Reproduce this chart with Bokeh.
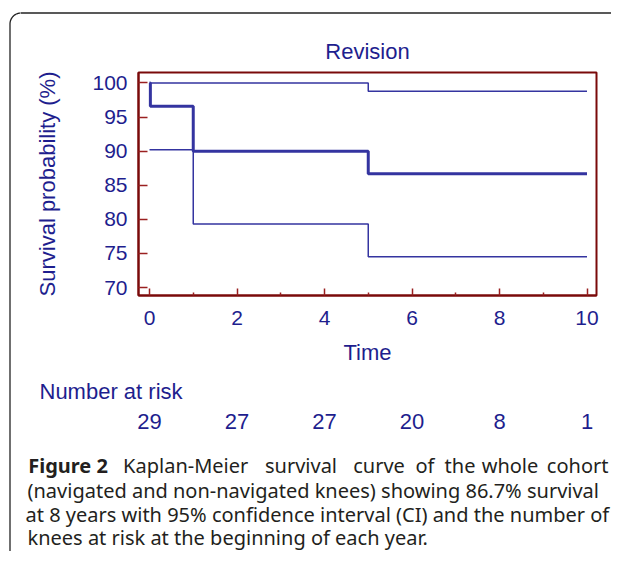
import numpy as np
from bokeh.plotting import figure
from bokeh.layouts import row, column
from bokeh.models import Range1d, FixedTicker
from bokeh.core.properties import value
from bokeh.embed import file_html
from bokeh.resources import INLINE

# ---------------- data ----------------
surv_time = [0, 0.02, 1.0, 5.0, 10.0]
surv_pct = [100.0, 96.6, 90.0, 86.7, 86.7]
upper_time = [0, 5.0, 10.0]
upper_pct = [100.0, 98.8, 98.8]
lower_time = [0, 1.0, 5.0, 10.0]
lower_pct = [90.2, 79.3, 74.5, 74.5]

risk_years = [0, 2, 4, 6, 8, 10]
risk_counts = [29, 27, 27, 20, 8, 1]

x_ticks = [0, 2, 4, 6, 8, 10]
x_minor_ticks = [1, 3, 5, 7, 9]
y_ticks = [70, 75, 80, 85, 90, 95, 100]

title_text = "Revision"
x_title = "Time"
y_title = "Survival probability (%)"
risk_title = "Number at risk"
caption_bold = "Figure 2"
caption_line1_words = ["Kaplan-Meier", "survival", "curve", "of", "the", "whole", "cohort"]
caption_lines = [
    "(navigated and non-navigated knees) showing 86.7% survival",
    "at 8 years with 95% confidence interval (CI) and the number of",
    "knees at risk at the beginning of each year.",
]

# ---------------- styling / layout ----------------
NAVY = "#1e1e8e"
LINE = "#3434a0"
FRAME = "#7a0a0a"
TICK = "#9a2020"
CAP = "#231f20"
BOX = "#222222"
CHART_FONT = "Liberation Sans"
CAP_FONT = "Noto Sans"
CAP_FS = 20
CHART_FS = 22

W, H = 611, 551
STRIP_W = 20          # left strip holding the rounded frame corner
TOP_H = 70            # top strip holding the title
CORE_H = 310          # chart with axes
BOT_H = H - TOP_H - CORE_H
FL, FR, FT, FB = 138, 596, 72, 295      # plot frame in page pixels
X0, X1 = -0.2514, 10.217
Y0, Y1 = 68.83, 101.54
BOX_X, BOX_Y, BOX_R = 9.5, 12.5, 11


def dx(px):
    return X0 + (px - FL) * (X1 - X0) / (FR - FL)


def yb(baseline, fs):
    # anchor position that puts the text baseline at the given page y
    return baseline - 0.36 * fs


def blank(w, h, xr, yr):
    f = figure(width=w, height=h, output_backend="svg", toolbar_location=None,
               x_range=xr, y_range=yr, x_axis_location=None, y_axis_location=None,
               min_border=0, frame_align=False)
    f.outline_line_color = None
    f.grid.visible = False
    f.background_fill_color = "white"
    f.border_fill_color = "white"
    return f


# left strip: rounded corner + left edge of the outer box
strip = blank(STRIP_W, H, Range1d(0, STRIP_W), Range1d(H, 0))
ang = np.linspace(np.pi, 1.5 * np.pi, 30)
cx, cy = BOX_X + BOX_R, BOX_Y + BOX_R
strip.line(list(cx + BOX_R * np.cos(ang)), list(cy + BOX_R * np.sin(ang)),
           line_color=BOX, line_width=1.3)
strip.line([BOX_X, BOX_X], [cy, H + 20], line_color=BOX, line_width=1.3)
strip.line([cx, STRIP_W + 1], [BOX_Y, BOX_Y], line_color=BOX, line_width=1.3)

# top strip: top edge of outer box + title
top = blank(W - STRIP_W, TOP_H, Range1d(STRIP_W, W), Range1d(TOP_H, 0))
top.line([STRIP_W - 1, W + 1], [BOX_Y, BOX_Y], line_color=BOX, line_width=1.3)
top.text(x=[(FL + FR) / 2], y=[yb(59, CHART_FS)], text=[title_text],
         text_font=value(CHART_FONT), text_font_size=f"{CHART_FS}px", text_color=NAVY,
         text_align="center", text_baseline="alphabetic")

# main chart
p = figure(width=W - STRIP_W, height=CORE_H, output_backend="svg", toolbar_location=None,
           x_range=Range1d(X0, X1), y_range=Range1d(Y0, Y1), frame_align=False,
           min_border_left=FL - STRIP_W, min_border_right=W - FR,
           min_border_top=FT - TOP_H, min_border_bottom=TOP_H + CORE_H - FB)
p.background_fill_color = "white"
p.border_fill_color = "white"
p.grid.visible = False
p.outline_line_color = FRAME
p.outline_line_width = 2

xa = p.xaxis[0]
xa.ticker = FixedTicker(ticks=x_ticks, minor_ticks=x_minor_ticks)
ya = p.yaxis[0]
ya.ticker = FixedTicker(ticks=y_ticks)
for ax in (xa, ya):
    ax.axis_line_color = FRAME
    ax.axis_line_width = 2
    ax.major_tick_line_color = TICK
    ax.major_tick_line_width = 1.5
    ax.major_tick_out = 0
    ax.minor_tick_out = 0
    ax.major_label_text_font = CHART_FONT
    ax.major_label_text_font_size = "21px"
    ax.major_label_text_color = NAVY
    ax.axis_label_text_font = CHART_FONT
    ax.axis_label_text_font_size = f"{CHART_FS}px"
    ax.axis_label_text_font_style = "normal"
    ax.axis_label_text_color = NAVY

xa.major_tick_in = 7
xa.minor_tick_in = 3
xa.minor_tick_line_color = TICK
xa.minor_tick_line_width = 1.5
xa.major_label_standoff = 15
xa.axis_label = x_title
xa.axis_label_standoff = 12

ya.major_tick_in = 9
ya.minor_tick_line_color = None
ya.major_label_standoff = 11
ya.axis_label = y_title
ya.axis_label_standoff = 29

p.step(upper_time, upper_pct, mode="after", line_color=LINE, line_width=1.5)
p.step(lower_time, lower_pct, mode="after", line_color=LINE, line_width=1.5)
p.step(surv_time, surv_pct, mode="after", line_color=LINE, line_width=3)

# bottom: number at risk + caption (y in page pixels)
y_top_bot = TOP_H + CORE_H
bot = blank(W - STRIP_W, BOT_H, Range1d(dx(STRIP_W), dx(W)), Range1d(H, y_top_bot))
bot.text(x=[dx(39)], y=[yb(399.3, CHART_FS)], text=[risk_title], text_font=value(CHART_FONT),
         text_font_size=f"{CHART_FS}px", text_color=NAVY, text_baseline="alphabetic")
bot.text(x=risk_years, y=[yb(429.3, CHART_FS)] * len(risk_years),
         text=[str(c) for c in risk_counts],
         text_font=value(CHART_FONT), text_font_size=f"{CHART_FS}px", text_color=NAVY,
         text_align="center", text_baseline="alphabetic")

cap_base = [472, 497, 521, 544.5]
cap_y = [yb(b, CAP_FS) for b in cap_base]
cap_kw = dict(text_font=value(CAP_FONT), text_font_size=f"{CAP_FS}px", text_color=CAP,
              text_baseline="alphabetic")
bot.text(x=[dx(27.7)], y=[cap_y[0]], text=[caption_bold], text_font_style="bold", **cap_kw)
# first line is justified in the reference: centre each word on its measured span,
# the last word ends at the right edge of the text block
line1_centres = [185.2, 300.5, 378.5, 424.5, 459.5, 509.5]
bot.text(x=[dx(c) for c in line1_centres], y=[cap_y[0]] * len(line1_centres),
         text=caption_line1_words[:-1], text_align="center", **cap_kw)
bot.text(x=[dx(608)], y=[cap_y[0]], text=caption_line1_words[-1:], text_align="right",
         **cap_kw)
bot.text(x=[dx(27), dx(25), dx(27)], y=cap_y[1:], text=caption_lines, **cap_kw)

layout = row(strip, column(top, p, bot))
open("out.html", "w").write(file_html(layout, INLINE))
